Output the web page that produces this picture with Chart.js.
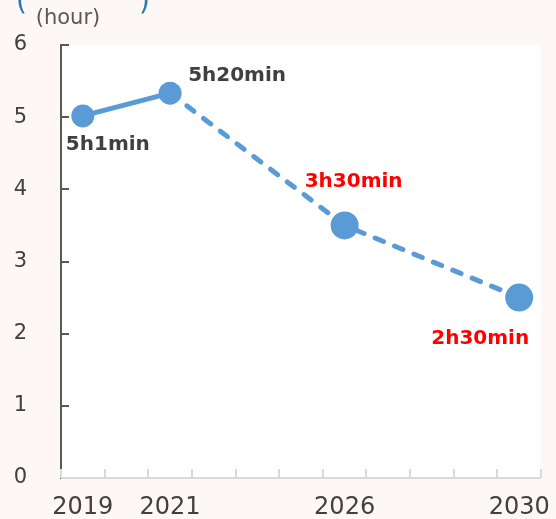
<!DOCTYPE html>
<html>
<head>
<meta charset="utf-8">
<script src="https://cdn.jsdelivr.net/npm/chart.js@4/dist/chart.umd.min.js"></script>
<style>
    html, body { margin: 0; padding: 0; background: #fdf8f6; }
    #wrap { width: 556px; height: 519px; position: relative; }
</style>
</head>
<body>
<div id="wrap"><canvas id="hoursChart" width="556" height="519"></canvas></div>
<script>
// category slots (Excel-style, unlabeled gaps between the years)
const categories = ['2019', '', '2021', '', '', '', '2026', '', '', '', '2030'];
const hours = [5.017, null, 5.333, null, null, null, 3.5, null, null, null, 2.5];
const valueLabels = ['5h1min', null, '5h20min', null, null, null, '3h30min', null, null, null, '2h30min'];
const yTicks = [0, 1, 2, 3, 4, 5, 6];

const lineBlue = '#5b9bd5';
const textGray = '#404040';

// label placement relative to each point (style only)
const labelOffsets = {
    0: { dx: 25, dy: 29, color: textGray },
    2: { dx: 67, dy: -17, color: textGray },
    6: { dx: 9, dy: -44, color: '#ff0000' },
    10: { dx: -39, dy: 41, color: '#ff0000' }
};

const plotBackground = {
    id: 'plotBackground',
    beforeDraw(chart) {
        const { ctx, chartArea: a } = chart;
        ctx.save();
        ctx.fillStyle = '#ffffff';
        ctx.fillRect(a.left, a.top, a.right - a.left, a.bottom - a.top);
        // remnants of the clipped title brackets
        ctx.fillStyle = '#2e75b6';
        ctx.font = '28px "DejaVu Sans"';
        ctx.textBaseline = 'alphabetic';
        ctx.fillText('(', 16, 10);
        ctx.fillText(')', 139, 10);
        ctx.fillStyle = '#595959';
        ctx.font = '21px "DejaVu Sans"';
        ctx.textAlign = 'center';
        ctx.textBaseline = 'middle';
        ctx.fillText('(hour)', 68, 19);
        ctx.restore();
    }
};

// tick marks pointing into the plot area
const insideTicks = {
    id: 'insideTicks',
    afterDraw(chart) {
        const { ctx, chartArea: a, scales } = chart;
        ctx.save();
        ctx.lineWidth = 2;
        ctx.strokeStyle = '#595959';
        scales.y.ticks.forEach((t, i) => {
            const y = Math.round(scales.y.getPixelForTick(i));
            ctx.beginPath();
            ctx.moveTo(a.left, y);
            ctx.lineTo(a.left + 8, y);
            ctx.stroke();
        });
        ctx.strokeStyle = '#d9d9d9';
        for (let i = 0; i <= categories.length; i++) {
            const x = Math.round(scales.x.getPixelForValue(i - 0.5));
            ctx.beginPath();
            ctx.moveTo(x, a.bottom);
            ctx.lineTo(x, a.bottom - 9);
            ctx.stroke();
        }
        ctx.beginPath();
        ctx.moveTo(a.left, a.bottom);
        ctx.lineTo(a.right, a.bottom);
        ctx.stroke();
        ctx.restore();
    }
};

const pointValueLabels = {
    id: 'pointValueLabels',
    afterDatasetsDraw(chart) {
        const { ctx } = chart;
        const meta = chart.getDatasetMeta(0);
        ctx.save();
        ctx.font = 'bold 20px "DejaVu Sans"';
        ctx.textAlign = 'center';
        ctx.textBaseline = 'middle';
        valueLabels.forEach((txt, i) => {
            if (!txt) return;
            const p = meta.data[i];
            const off = labelOffsets[i];
            ctx.fillStyle = off.color;
            ctx.fillText(txt, p.x + off.dx, p.y + off.dy);
        });
        ctx.restore();
    }
};

const ctx = document.getElementById('hoursChart').getContext('2d');
new Chart(ctx, {
    type: 'line',
    data: {
        labels: categories,
        datasets: [{
            data: hours,
            spanGaps: true,
            borderColor: lineBlue,
            backgroundColor: lineBlue,
            borderWidth: 5,
            borderCapStyle: 'round',
            pointBackgroundColor: lineBlue,
            pointBorderColor: lineBlue,
            pointBorderWidth: 0,
            pointRadius: [11.5, 0, 11.5, 0, 0, 0, 14, 0, 0, 0, 14],
            tension: 0,
            segment: {
                borderDash: c => c.p0DataIndex >= 2 ? [9, 12] : undefined
            }
        }]
    },
    options: {
        responsive: false,
        animation: false,
        layout: { padding: { top: 45, right: 15, left: 0, bottom: 0 } },
        plugins: {
            legend: { display: false },
            tooltip: { enabled: false }
        },
        scales: {
            x: {
                offset: true,
                grid: { display: false, drawTicks: false },
                border: { display: false },
                ticks: {
                    color: textGray,
                    font: { family: '"DejaVu Sans"', size: 24 },
                    padding: 15,
                    autoSkip: false,
                    maxRotation: 0
                },
                afterFit(scale) {
                    scale.height = 41;
                    scale.paddingLeft = 0;
                    scale.paddingRight = 0;
                }
            },
            y: {
                min: 0,
                max: 6,
                afterBuildTicks(scale) { scale.ticks = yTicks.map(v => ({ value: v })); },
                grid: { display: false, drawTicks: false },
                border: { display: true, color: '#595959', width: 2 },
                ticks: {
                    color: textGray,
                    font: { family: '"DejaVu Sans"', size: 21 },
                    padding: 34
                },
                afterFit(scale) {
                    scale.width = 61;
                    scale.paddingBottom = 0;
                    scale.paddingTop = 0;
                }
            }
        }
    },
    plugins: [plotBackground, insideTicks, pointValueLabels]
});
</script>
</body>
</html>
